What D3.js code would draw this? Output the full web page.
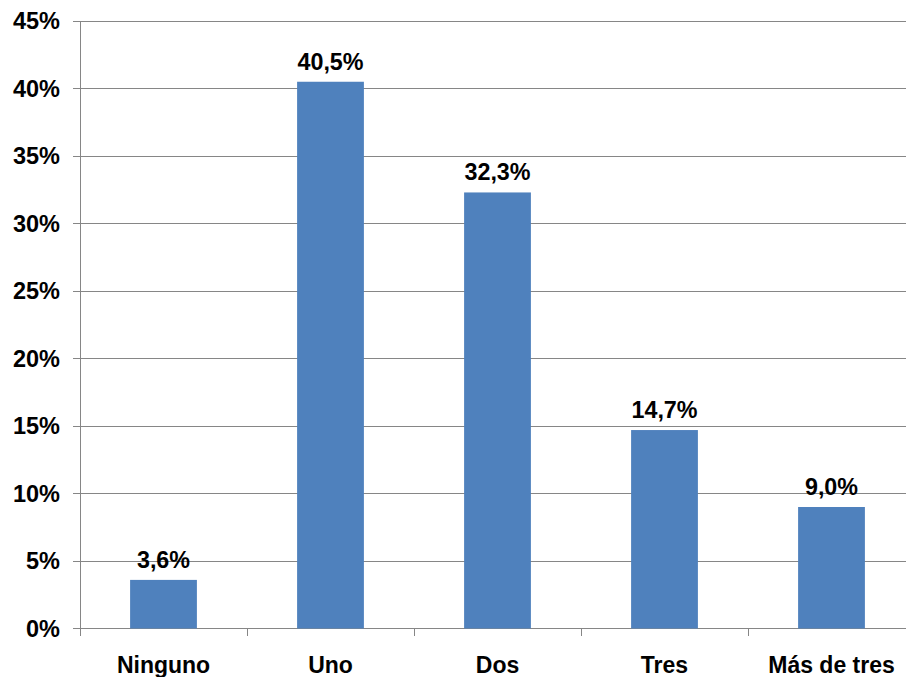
<!DOCTYPE html>
<html><head><meta charset="utf-8">
<script src="https://cdn.jsdelivr.net/npm/d3@7"></script>
<style>body{margin:0;background:#fff;}svg{display:block;}text{font-family:"Liberation Sans",Arial,sans-serif;font-weight:bold;fill:#000;}</style>
</head><body><svg width="906" height="677"></svg>
<script>
const categories = ["Ninguno","Uno","Dos","Tres","Más de tres"];
const values = [3.6, 40.5, 32.3, 14.7, 9.0];
const valueLabels = ["3,6%","40,5%","32,3%","14,7%","9,0%"];
const yTicks = [0,5,10,15,20,25,30,35,40,45];

(function(){
const svg = d3.select("svg");
const mLeft = 80, mRight = 915, mTop = 21, mBottom = 628.5;
const x = d3.scaleBand().domain(categories).range([mLeft,mRight]).paddingInner(0.6).paddingOuter(0.3);
const y = d3.scaleLinear().domain([0,45]).range([mBottom,mTop]);
const grid = "#868686";

svg.append("g").selectAll("line").data(yTicks).join("line")
  .attr("x1", mLeft-7).attr("x2", mRight).attr("y1", d=>y(d)).attr("y2", d=>y(d))
  .attr("stroke", grid).attr("stroke-width",1).attr("shape-rendering","crispEdges");
svg.append("line").attr("x1",mLeft).attr("x2",mLeft).attr("y1",y(45)).attr("y2",mBottom)
  .attr("stroke",grid).attr("shape-rendering","crispEdges");
svg.append("g").selectAll("text").data(yTicks).join("text")
  .attr("x", 60).attr("y", d=>y(d)).attr("dy","0.36em").attr("text-anchor","end")
  .attr("font-size", 23.5).text(d=>d+"%");
const step = x.step();
const xt = d3.range(categories.length+1).map(i=>mLeft + i*step);
svg.append("g").selectAll("line").data(xt).join("line")
  .attr("x1",d=>d).attr("x2",d=>d).attr("y1",mBottom).attr("y2",mBottom+7)
  .attr("stroke",grid).attr("shape-rendering","crispEdges");
svg.append("g").selectAll("rect").data(values).join("rect")
  .attr("x",(d,i)=>x(categories[i])).attr("width",x.bandwidth())
  .attr("y",d=>y(d)).attr("height",d=>mBottom-y(d)).attr("fill","#4F81BD");
svg.append("g").selectAll("text").data(values).join("text")
  .attr("x",(d,i)=>x(categories[i])+x.bandwidth()/2).attr("y",d=>y(d)-12)
  .attr("text-anchor","middle").attr("font-size",23.3).text((d,i)=>valueLabels[i]);
svg.append("g").selectAll("text").data(categories).join("text")
  .attr("x",d=>x(d)+x.bandwidth()/2).attr("y",673)
  .attr("text-anchor","middle").attr("font-size",23).text(d=>d);
})();
</script></body></html>
